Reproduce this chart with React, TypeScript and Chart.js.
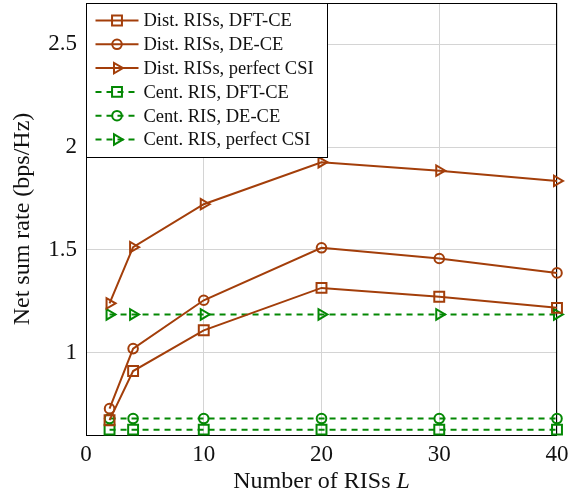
import React, { useEffect, useRef } from "react";
import { Chart, registerables } from "chart.js";

Chart.register(...registerables);

const numRIS = [2, 4, 10, 20, 30, 40];
const distDftCE = [0.672, 0.911, 1.109, 1.315, 1.272, 1.218];
const distDeCE = [0.728, 1.02, 1.255, 1.51, 1.458, 1.388];
const distPerfect = [1.24, 1.513, 1.722, 1.926, 1.885, 1.835];
const centDftCE = [0.626, 0.626, 0.626, 0.626, 0.626, 0.626];
const centDeCE = [0.68, 0.68, 0.68, 0.68, 0.68, 0.68];
const centPerfect = [1.186, 1.186, 1.186, 1.186, 1.186, 1.186];
const xTicks = [0, 10, 20, 30, 40];
const yTicks = [1, 1.5, 2, 2.5];
const yTickLabels = ["1", "1.5", "2", "2.5"];
const xTitleText = "Number of RISs ";
const xTitleSymbol = "L";

const BROWN = "rgb(163,62,10)";
const GREEN = "rgb(4,136,4)";
const SERIF = "'Liberation Serif', 'DejaVu Serif', serif";

type Style = "rect" | "circle" | "triangle";

const seriesDefs: { label: string; data: number[]; color: string; dashed: boolean; marker: Style }[] = [
  { label: "Dist. RISs, DFT-CE", data: distDftCE, color: BROWN, dashed: false, marker: "rect" },
  { label: "Dist. RISs, DE-CE", data: distDeCE, color: BROWN, dashed: false, marker: "circle" },
  { label: "Dist. RISs, perfect CSI", data: distPerfect, color: BROWN, dashed: false, marker: "triangle" },
  { label: "Cent. RIS, DFT-CE", data: centDftCE, color: GREEN, dashed: true, marker: "rect" },
  { label: "Cent. RIS, DE-CE", data: centDeCE, color: GREEN, dashed: true, marker: "circle" },
  { label: "Cent. RIS, perfect CSI", data: centPerfect, color: GREEN, dashed: true, marker: "triangle" },
];

const markerRadius = (m: Style) => (m === "rect" ? 7 : m === "circle" ? 4.8 : 6);

function drawMarker(ctx: CanvasRenderingContext2D, m: Style, x: number, y: number, color: string) {
  ctx.save();
  ctx.setLineDash([]);
  ctx.strokeStyle = color;
  ctx.lineWidth = 2;
  ctx.beginPath();
  const r = markerRadius(m);
  if (m === "rect") {
    const s = Math.SQRT1_2 * r;
    ctx.rect(x - s, y - s, 2 * s, 2 * s);
  } else if (m === "circle") {
    ctx.arc(x, y, r, 0, Math.PI * 2);
  } else {
    ctx.moveTo(x + r, y);
    ctx.lineTo(x - r / 2, y - (r * Math.sqrt(3)) / 2);
    ctx.lineTo(x - r / 2, y + (r * Math.sqrt(3)) / 2);
    ctx.closePath();
  }
  ctx.stroke();
  ctx.restore();
}

const framePlugin = {
  id: "frameAndLegend",
  beforeDatasetsDraw(chart: any) {
    const { ctx, chartArea } = chart;
    ctx.save();
    ctx.strokeStyle = "#000";
    ctx.lineWidth = 1;
    ctx.strokeRect(chartArea.left + 0.5, chartArea.top + 0.5, chartArea.right - chartArea.left - 1, chartArea.bottom - chartArea.top);
    ctx.restore();
  },
  afterDatasetsDraw(chart: any) {
    const { ctx, chartArea } = chart;
    const bx = chartArea.left + 0.5;
    const by = chartArea.top + 0.5;
    const bw = 241;
    const bh = 154;
    ctx.save();
    ctx.fillStyle = "#fff";
    ctx.fillRect(bx, by, bw, bh);
    ctx.strokeStyle = "#000";
    ctx.lineWidth = 1;
    ctx.strokeRect(bx, by, bw, bh);
    ctx.font = `18.5px ${SERIF}`;
    ctx.textBaseline = "middle";
    ctx.fillStyle = "#111";
    seriesDefs.forEach((s, i) => {
      const cy = by + 17 + i * 23.8;
      const x0 = bx + 9;
      const x1 = bx + 52;
      ctx.save();
      ctx.strokeStyle = s.color;
      ctx.lineWidth = 2;
      ctx.setLineDash(s.dashed ? [6, 5] : []);
      ctx.beginPath();
      ctx.moveTo(x0, cy);
      ctx.lineTo(x1, cy);
      ctx.stroke();
      ctx.restore();
      drawMarker(ctx, s.marker, (x0 + x1) / 2, cy, s.color);
      ctx.fillText(s.label, bx + 57, cy + 1);
    });
    ctx.restore();

    // x-axis title with italic symbol
    ctx.save();
    const normalFont = `24px ${SERIF}`;
    const italicFont = `italic 24px ${SERIF}`;
    ctx.font = normalFont;
    const w1 = ctx.measureText(xTitleText).width;
    ctx.font = italicFont;
    const w2 = ctx.measureText(xTitleSymbol).width;
    const cx = (chartArea.left + chartArea.right) / 2;
    const startX = cx - (w1 + w2) / 2;
    const ty = chartArea.bottom + 47;
    ctx.fillStyle = "#111";
    ctx.textBaseline = "middle";
    ctx.textAlign = "left";
    ctx.font = normalFont;
    ctx.fillText(xTitleText, startX, ty);
    ctx.font = italicFont;
    ctx.fillText(xTitleSymbol, startX + w1, ty);
    ctx.restore();
  },
};

export default function App() {
  const ref = useRef<HTMLCanvasElement | null>(null);
  useEffect(() => {
    document.body.style.margin = "0";
    const canvas = ref.current;
    if (!canvas) return;
    const chart = new Chart(canvas, {
      type: "line",
      data: {
        datasets: seriesDefs.map((s) => ({
          label: s.label,
          data: numRIS.map((x, i) => ({ x, y: s.data[i] })),
          borderColor: s.color,
          backgroundColor: "rgba(0,0,0,0)",
          borderWidth: 2,
          borderDash: s.dashed ? [6, 5] : [],
          pointStyle: s.marker,
          rotation: s.marker === "triangle" ? 90 : 0,
          pointRadius: markerRadius(s.marker),
          pointBorderWidth: 2,
          pointBorderColor: s.color,
          pointBackgroundColor: "rgba(0,0,0,0)",
          tension: 0,
          fill: false,
          clip: false as any,
        })),
      },
      options: {
        animation: false,
        responsive: false,
        maintainAspectRatio: false,
        layout: { autoPadding: false, padding: { top: 3, right: 20, left: 0, bottom: 0 } },
        plugins: { legend: { display: false }, tooltip: { enabled: false } },
        scales: {
          x: {
            type: "linear",
            min: 0,
            max: 40,
            afterBuildTicks: (axis: any) => {
              axis.ticks = xTicks.map((v) => ({ value: v }));
            },
            afterFit: (axis: any) => {
              axis.height = 57;
              axis.paddingLeft = 0;
              axis.paddingRight = 0;
            },
            grid: { color: "#d4d4d4", lineWidth: 1, drawTicks: false },
            border: { display: false },
            ticks: { font: { family: SERIF, size: 23 }, color: "#111", padding: 6, maxRotation: 0 },
            title: { display: false },
          },
          y: {
            type: "linear",
            min: 0.6,
            max: 2.7,
            afterBuildTicks: (axis: any) => {
              axis.ticks = yTicks.map((v) => ({ value: v }));
            },
            afterFit: (axis: any) => {
              axis.width = 86;
              axis.paddingTop = 0;
              axis.paddingBottom = 0;
            },
            grid: { color: "#d4d4d4", lineWidth: 1, drawTicks: false },
            border: { display: false },
            ticks: {
              font: { family: SERIF, size: 23 },
              color: "#111",
              padding: 9,
              callback: (v: any) => {
                const i = yTicks.indexOf(Number(v));
                return i >= 0 ? yTickLabels[i] : "";
              },
            },
            title: {
              display: true,
              text: "Net sum rate (bps/Hz)",
              font: { family: SERIF, size: 24 },
              color: "#111",
              padding: { top: 8, bottom: 0 },
            },
          },
        },
      },
      plugins: [framePlugin],
    });
    return () => chart.destroy();
  }, []);
  return <canvas ref={ref} width={577} height={492} style={{ display: "block", width: 577, height: 492 }} />;
}
